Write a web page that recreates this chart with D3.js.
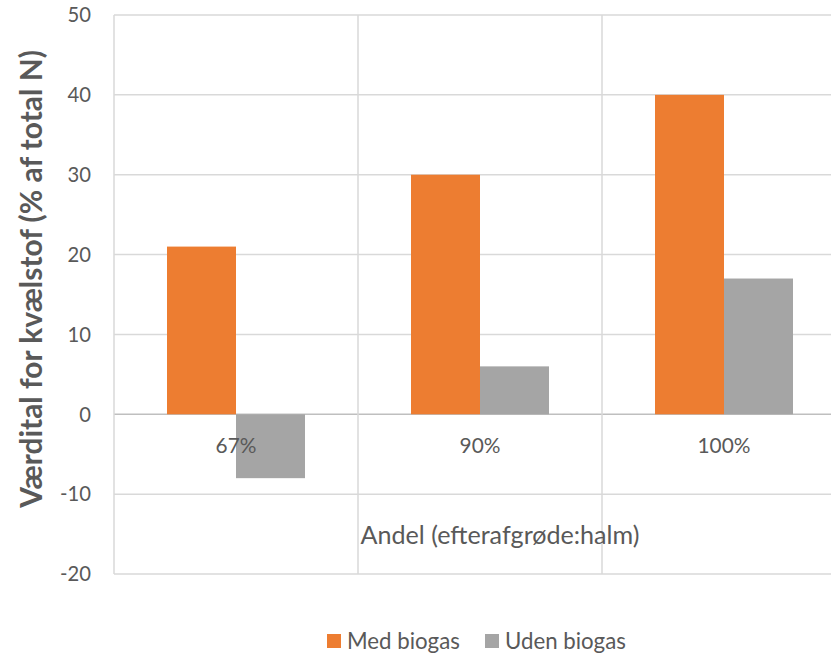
<!DOCTYPE html>
<html>
<head>
<meta charset="utf-8">
<script src="https://cdn.jsdelivr.net/npm/d3@7"></script>
<style>
  body { margin: 0; background: #fff; }
  svg { display: block; font-family: Lato, "Open Sans", sans-serif; }
</style>
</head>
<body>
<svg id="chart" width="831" height="653"></svg>
<script>
// data
const categories = ['67%', '90%', '100%'];
const seriesNames = ['Med biogas', 'Uden biogas'];
const medBiogas = [21, 30, 40];
const udenBiogas = [-8, 6, 17];
const yTicks = [-20, -10, 0, 10, 20, 30, 40, 50];

const colors = ['#ED7D31', '#A5A5A5'];
const textColor = '#595959';
const rows = categories.map((c, i) => ({ cat: c, values: [medBiogas[i], udenBiogas[i]] }));

const svg = d3.select('#chart');
const plotLeft = 114, plotTop = 15, plotBottom = 574;
const band = 244;

// font size that makes `str` (at given weight) about `target` px wide
function fitSize(str, target, weight) {
  const t = svg.append('text').attr('font-size', 20).attr('font-weight', weight || 'normal').text(str);
  const w = t.node().getComputedTextLength();
  t.remove();
  return 20 * target / w;
}
const tickSize = fitSize('-20', 31);
const catSize = fitSize('100%', 53);
const xTitleSize = fitSize('Andel (efterafgrøde:halm)', 279);
const yTitleSize = fitSize('Værdital for kvælstof (% af total N)', 458, 'bold');
const legendSize = fitSize('Uden biogas', 121);

const x = d3.scaleBand().domain(categories).range([plotLeft, plotLeft + band * categories.length]).padding(0);
const xs = d3.scaleBand().domain(seriesNames).range([53, band - 53]).padding(0);
const y = d3.scaleLinear().domain([-20, 50]).range([plotBottom, plotTop]);

// gridlines
const grid = svg.append('g').attr('class', 'grid');
grid.selectAll('line.h').data(yTicks).enter().append('line')
  .attr('x1', plotLeft).attr('x2', plotLeft + band * 3)
  .attr('y1', d => y(d)).attr('y2', d => y(d))
  .attr('stroke', d => d === 0 ? '#bfbfbf' : '#d9d9d9')
  .attr('stroke-width', 1.5);
grid.selectAll('line.v').data(d3.range(categories.length + 1)).enter().append('line')
  .attr('x1', i => plotLeft + i * band).attr('x2', i => plotLeft + i * band)
  .attr('y1', plotTop).attr('y2', plotBottom)
  .attr('stroke', '#d9d9d9').attr('stroke-width', 1.5);

// y axis labels
svg.append('g').selectAll('text').data(yTicks).enter().append('text')
  .attr('x', 91).attr('y', d => y(d)).attr('dy', '0.36em')
  .attr('text-anchor', 'end').attr('font-size', tickSize).attr('fill', textColor)
  .text(d => d);

// bars
const groups = svg.append('g').selectAll('g.cat').data(rows).enter().append('g')
  .attr('transform', d => `translate(${x(d.cat)},0)`);
groups.selectAll('rect').data(d => d.values.map((v, i) => ({ v, name: seriesNames[i], i })))
  .enter().append('rect')
  .attr('x', d => xs(d.name))
  .attr('width', xs.bandwidth())
  .attr('y', d => y(Math.max(0, d.v)))
  .attr('height', d => Math.abs(y(d.v) - y(0)))
  .attr('fill', d => colors[d.i]);

// category labels
svg.append('g').selectAll('text').data(categories).enter().append('text')
  .attr('x', d => x(d) + band / 2).attr('y', y(0) + 39)
  .attr('text-anchor', 'middle').attr('font-size', catSize).attr('fill', textColor)
  .text(d => d);

// axis titles
svg.append('text').attr('x', 500).attr('y', 544)
  .attr('text-anchor', 'middle').attr('font-size', xTitleSize).attr('fill', textColor)
  .text('Andel (efterafgrøde:halm)');
svg.append('text')
  .attr('transform', `translate(42,279) rotate(-90)`)
  .attr('text-anchor', 'middle').attr('font-size', yTitleSize).attr('font-weight', 'bold').attr('fill', textColor)
  .text('Værdital for kvælstof (% af total N)');

// legend
const legend = svg.append('g').attr('transform', 'translate(0,641)');
const items = [{ name: seriesNames[0], x: 327, c: colors[0] }, { name: seriesNames[1], x: 485, c: colors[1] }];
const it = legend.selectAll('g').data(items).enter().append('g').attr('transform', d => `translate(${d.x},0)`);
it.append('rect').attr('x', 0).attr('y', -7).attr('width', 14).attr('height', 14).attr('fill', d => d.c);
it.append('text').attr('x', 20).attr('y', 0).attr('dy', '0.35em').attr('font-size', legendSize).attr('fill', textColor).text(d => d.name);
</script>
</body>
</html>
